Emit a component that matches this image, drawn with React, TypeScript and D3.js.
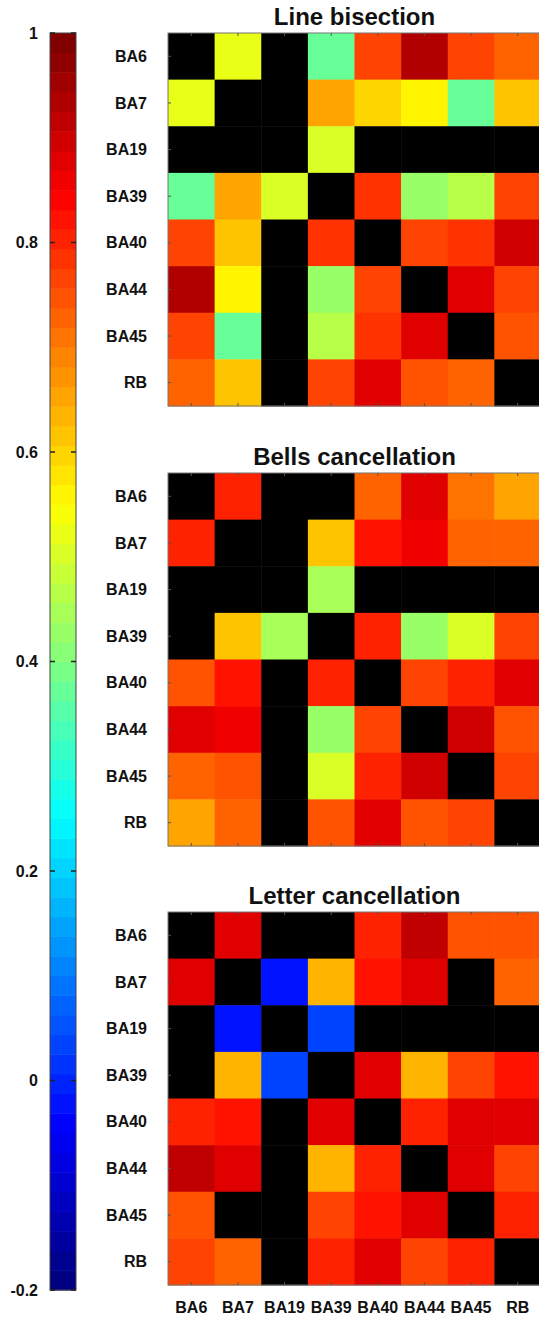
import React from 'react';
import * as d3 from 'd3';

// regions (rows and columns share the same order)
const regions = ['BA6', 'BA7', 'BA19', 'BA39', 'BA40', 'BA44', 'BA45', 'RB'];

// null = not shown (black cell)
const lineBisection: (number | null)[][] = [
  [null, 0.52, null, 0.38, 0.77, 0.94, 0.76, 0.73],
  [0.52, null, null, 0.66, 0.6, 0.55, 0.38, 0.62],
  [null, null, null, 0.51, null, null, null, null],
  [0.38, 0.66, 0.51, null, 0.79, 0.43, 0.46, 0.77],
  [0.77, 0.62, null, 0.79, null, 0.77, 0.79, 0.89],
  [0.94, 0.55, null, 0.43, 0.77, null, 0.88, 0.76],
  [0.76, 0.38, null, 0.46, 0.78, 0.88, null, 0.74],
  [0.73, 0.62, null, 0.77, 0.88, 0.74, 0.73, null],
];

const bellsCancellation: (number | null)[][] = [
  [null, 0.81, null, null, 0.73, 0.88, 0.71, 0.66],
  [0.81, null, null, 0.62, 0.83, 0.85, 0.73, 0.72],
  [null, null, null, 0.44, null, null, null, null],
  [null, 0.62, 0.44, null, 0.81, 0.43, 0.51, 0.76],
  [0.74, 0.82, null, 0.81, null, 0.77, 0.81, 0.88],
  [0.88, 0.85, null, 0.43, 0.77, null, 0.9, 0.75],
  [0.72, 0.74, null, 0.51, 0.81, 0.9, null, 0.77],
  [0.66, 0.72, null, 0.75, 0.88, 0.74, 0.77, null],
];

const letterCancellation: (number | null)[][] = [
  [null, 0.88, null, null, 0.8, 0.92, 0.74, 0.75],
  [0.88, null, -0.03, 0.64, 0.82, 0.87, null, 0.72],
  [null, -0.03, null, 0.04, null, null, null, null],
  [null, 0.64, 0.04, null, 0.88, 0.64, 0.76, 0.82],
  [0.81, 0.82, null, 0.88, null, 0.8, 0.87, 0.88],
  [0.92, 0.87, null, 0.64, 0.81, null, 0.87, 0.77],
  [0.74, null, null, 0.76, 0.83, 0.87, null, 0.81],
  [0.76, 0.72, null, 0.81, 0.88, 0.76, 0.8, null],
];

const panelTitles = ['Line bisection', 'Bells cancellation', 'Letter cancellation'];
const panelData = [lineBisection, bellsCancellation, letterCancellation];

const colorTicks = [-0.2, 0, 0.2, 0.4, 0.6, 0.8, 1];
const vmin = -0.2;
const vmax = 1;
const nLevels = 64;

// MATLAB-style jet
function jet(t: number) {
  const c = (x: number) => Math.max(0, Math.min(1, x));
  const r = c(Math.min(4 * t - 1.5, -4 * t + 4.5));
  const g = c(Math.min(4 * t - 0.5, -4 * t + 3.5));
  const b = c(Math.min(4 * t + 0.5, -4 * t + 2.5));
  return d3.rgb(r * 255, g * 255, b * 255).formatHex();
}
const jetLevels = d3.range(nLevels).map(i => jet(i / (nLevels - 1)));
const colorScale = d3.scaleQuantize<string>().domain([vmin, vmax]).range(jetLevels);

const font = 'Arial, "Liberation Sans", sans-serif';

const App = () => {
  const width = 539;
  const height = 1318;

  const cbX = 50, cbW = 26, cbTop = 33, cbBottom = 1290;
  const cbScale = d3.scaleLinear().domain([vmin, vmax]).range([cbBottom, cbTop]);
  const bandH = (cbBottom - cbTop) / nLevels;

  const hmLeft = 168, hmSize = 373;
  const panelTops = [33, 473, 912];
  const xBand = d3.scaleBand<string>().domain(regions).range([hmLeft, hmLeft + hmSize]);

  return (
    <svg width={width} height={height} style={{ position: 'absolute', left: 0, top: 0 }} fontFamily={font}>
      <rect width={width} height={height} fill="#fff" />

      {/* colorbar */}
      {jetLevels.map((col, i) => (
        <rect key={i} x={cbX} y={cbBottom - (i + 1) * bandH} width={cbW} height={bandH + 0.5} fill={col} />
      ))}
      <rect x={cbX} y={cbTop} width={cbW} height={cbBottom - cbTop} fill="none" stroke="#444" strokeWidth={1} />
      {colorTicks.map(t => (
        <g key={t}>
          <line x1={cbX} x2={cbX + 5} y1={cbScale(t)} y2={cbScale(t)} stroke="#222" strokeWidth={1.5} />
          <line x1={cbX + cbW - 5} x2={cbX + cbW} y1={cbScale(t)} y2={cbScale(t)} stroke="#222" strokeWidth={1.5} />
          <text x={38} y={cbScale(t)} dy="0.35em" textAnchor="end" fontSize={16} fontWeight="bold" fill="#111">
            {t}
          </text>
        </g>
      ))}

      {panelData.map((matrix, p) => {
        const top = panelTops[p];
        const yBand = d3.scaleBand<string>().domain(regions).range([top, top + hmSize]);
        return (
          <g key={p}>
            <text x={hmLeft + hmSize / 2} y={top - 8} textAnchor="middle" fontSize={24} fontWeight="bold" fill="#111">
              {panelTitles[p]}
            </text>
            {matrix.map((row, i) =>
              row.map((v, j) => (
                <rect
                  key={`${i}-${j}`}
                  x={xBand(regions[j])}
                  y={yBand(regions[i])}
                  width={xBand.bandwidth() + 0.5}
                  height={yBand.bandwidth() + 0.5}
                  fill={v === null ? '#000' : colorScale(v)}
                />
              ))
            )}
            <rect x={hmLeft} y={top} width={hmSize} height={hmSize} fill="none" stroke="#777" strokeWidth={1} />
            {regions.map(r => (
              <g key={r}>
                <line x1={hmLeft} x2={hmLeft + 3} y1={yBand(r)! + yBand.bandwidth() / 2} y2={yBand(r)! + yBand.bandwidth() / 2} stroke="#555" />
                <line x1={xBand(r)! + xBand.bandwidth() / 2} x2={xBand(r)! + xBand.bandwidth() / 2} y1={top} y2={top + 3} stroke="#555" />
                <line x1={xBand(r)! + xBand.bandwidth() / 2} x2={xBand(r)! + xBand.bandwidth() / 2} y1={top + hmSize - 3} y2={top + hmSize} stroke="#555" />
                <text x={147} y={yBand(r)! + yBand.bandwidth() / 2} dy="0.35em" textAnchor="end" fontSize={16} fontWeight="bold" fill="#111">
                  {r}
                </text>
              </g>
            ))}
            {p === panelData.length - 1 &&
              regions.map(r => (
                <text key={r} x={xBand(r)! + xBand.bandwidth() / 2} y={1313} textAnchor="middle" fontSize={16} fontWeight="bold" fill="#111">
                  {r}
                </text>
              ))}
          </g>
        );
      })}
    </svg>
  );
};

export default App;
